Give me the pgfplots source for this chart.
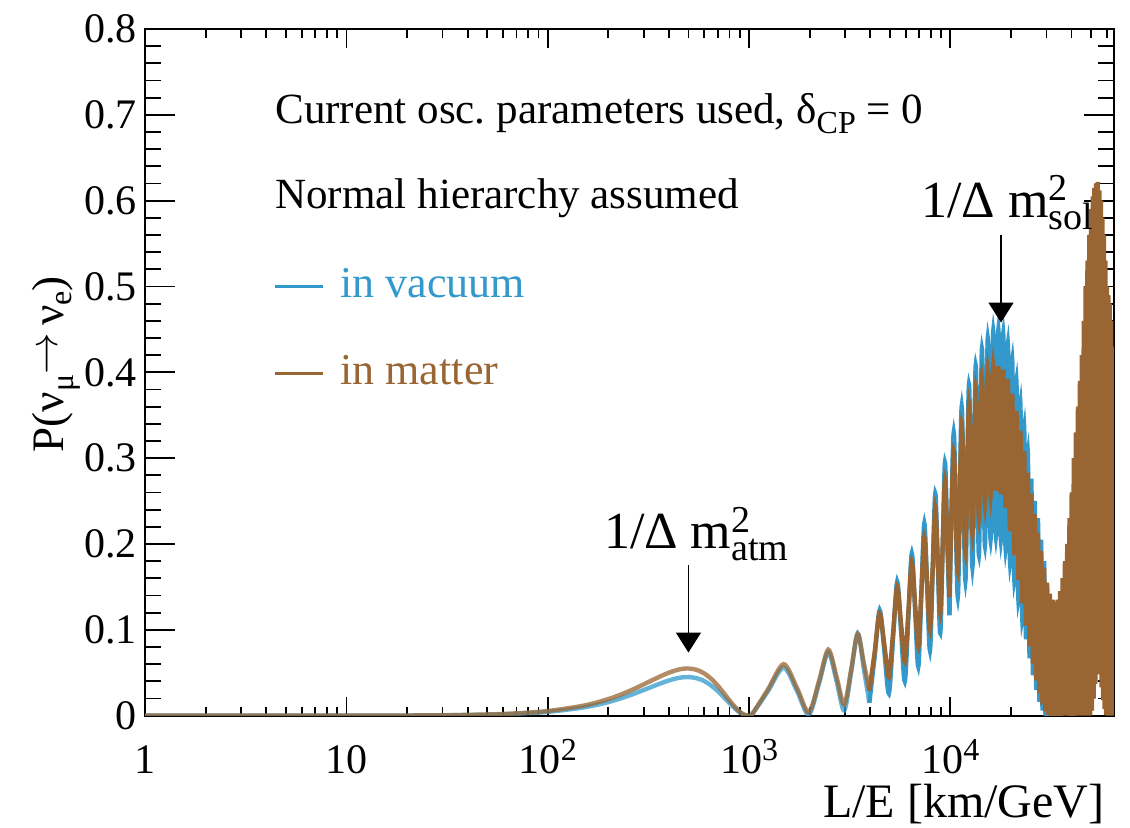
\documentclass[border=0pt]{standalone}
\usepackage{fontspec}
\setmainfont{Liberation Serif}
\usepackage{pgfplots}
\pgfplotsset{compat=1.18}
\usetikzlibrary{arrows.meta}
\newcommand\fs[1]{\fontsize{#1}{#1}\selectfont}
\newcommand\sups[1]{\raisebox{6.5pt}{\fs{16}#1}}
\newcommand\msq[1]{m\rlap{\raisebox{8pt}{\fs{19}2}}\raisebox{-6pt}{\fs{19}#1}}
\definecolor{vblue}{RGB}{51,153,204}
\definecolor{mbrown}{RGB}{153,102,51}
\begin{document}
\begin{tikzpicture}
% ---------- frame and x ticks ----------
\begin{axis}[name=ax1, at={(0,0)}, anchor=south west,
  scale only axis, width=484pt, height=343pt,
  xmode=log, xmin=1, xmax=65000, ymin=0, ymax=0.8,
  xtick={1,10,100,1000,10000},
  xticklabels={1,10,10\sups{2},10\sups{3},10\sups{4}},
  minor xtick={2,3,4,5,6,7,8,9,20,30,40,50,60,70,80,90,200,300,400,500,600,700,800,900,2000,3000,4000,5000,6000,7000,8000,9000,20000,30000,40000,50000,60000},
  ytick=\empty,
  xtick pos=both, xticklabel pos=lower,
  tick align=inside,
  major tick length=9.5pt, minor tick length=4.5pt,
  axis line style={line width=1pt},
  every tick/.style={black, line width=0.9pt},
  xticklabel style={font=\fs{21}, anchor=base, inner sep=0pt, yshift=-29pt},
]
\end{axis}
% ---------- data and y ticks ----------
\begin{axis}[name=ax2, at={(0,0)}, anchor=south west,
  scale only axis, width=484pt, height=343pt,
  xmode=log, xmin=1, xmax=65000, ymin=0, ymax=0.8,
  xtick=\empty,
  ytick={0,0.1,0.2,0.3,0.4,0.5,0.6,0.7,0.8},
  yticklabels={0,0.1,0.2,0.3,0.4,0.5,0.6,0.7,0.8},
  minor y tick num=4,
  ytick pos=both, yticklabel pos=left,
  tick align=inside,
  major tick length=15pt, minor tick length=8pt,
  axis line style={line width=1pt},
  every tick/.style={black, line width=0.9pt},
  yticklabel style={font=\fs{21}, inner sep=0pt, xshift=-4pt},
  clip mode=individual,
  every axis plot/.append style={line width=2.2pt, smooth},
  legend style={at={(0.132,0.653)}, anchor=north west, draw=none, fill=none,
    font=\fs{22}, inner sep=0pt, row sep=24.5pt,
    nodes={inner sep=0pt, text height=15pt, text depth=4pt},
    /tikz/every odd column/.append style={column sep=8pt}},
  legend cell align=left,
  legend image code/.code={\draw[#1, line width=1.5pt, opacity=1, draw opacity=1] (0pt,0pt) -- (24pt,0pt);},
]
% vacuum
\addplot[vblue, draw opacity=0.75] coordinates {
(1,0)(5,0.00001)(10,0.00005)(20,0.0002)(30,0.0004)(50,0.0011)(70,0.0022)(100,0.0044)(150,0.0095)(200,0.0158)(250,0.0229)(300,0.0299)(350,0.0361)(400,0.0410)(450,0.0441)(495,0.0450)(550,0.0436)(600,0.0402)(650,0.0349)(700,0.0285)(750,0.0214)(800,0.0145)(850,0.0084)(900,0.0036)(950,0.0007)(990,0)(1030,0.0009)(1237.5,0.028)(1485,0.056)(1732.5,0.0285)(1980,0.001)(2227.5,0.0375)(2475,0.074)(2722.5,0.040)(2970,0.006)(3217.5,0.051)(3465,0.096)(3712.5,0.0555)(3960,0.015)};
\addlegendentry{\textcolor{vblue}{in vacuum}}
\addplot[vblue, forget plot] coordinates {
(3960,0.015)(4207.5,0.069)(4455,0.123)(4702.5,0.0745)(4950,0.026)(5197.5,0.091)(5445,0.156)(5692.5,0.098)(5940,0.040)(6187.5,0.1145)(6435,0.189)(6682.5,0.123)(6930,0.057)(7177.5,0.1405)(7425,0.224)(7672.5,0.150)(7920,0.076)(8167.5,0.1675)(8415,0.259)(8662.5,0.1775)(8910,0.096)(9157.5,0.1955)(9405,0.295)(9652.5,0.206)(9900,0.117)};
\addplot[vblue, forget plot] coordinates {
(9900,0.117)(10395,0.330)(10890,0.138)(11385,0.360)(11880,0.157)(12375,0.386)(12870,0.173)(13365,0.408)(13860,0.187)(14355,0.427)(14850,0.198)(15345,0.440)(15840,0.205)(16335,0.448)(16830,0.209)(17325,0.450)(17820,0.205)(18315,0.445)(18810,0.195)(19305,0.433)(19800,0.178)(20295,0.414)(20790,0.158)(21285,0.390)(21780,0.135)(22275,0.364)(22770,0.112)(23265,0.336)(23760,0.089)(24255,0.306)(24750,0.067)(25245,0.276)(25740,0.047)(26235,0.250)(26730,0.030)(27225,0.230)(27720,0.016)(28215,0.205)(28710,0.006)(29205,0.180)(29700,0)(30195,0.150)(30690,0)(31185,0.110)(31680,0)(32175,0.060)(32670,0)(33165,0.020)(33660,0)};
% matter
\addplot[mbrown, draw opacity=0.75] coordinates {
(1,0)(5,0.00001)(10,0.00006)(20,0.0002)(30,0.00045)(50,0.0014)(70,0.0027)(100,0.0054)(150,0.0116)(200,0.0193)(250,0.0279)(300,0.0365)(350,0.0441)(400,0.0501)(450,0.0539)(495,0.0550)(550,0.0533)(600,0.0491)(650,0.0427)(700,0.0348)(750,0.0262)(800,0.0177)(850,0.0103)(900,0.0044)(950,0.0009)(990,0)(1030,0.001)(1237.5,0.030)(1485,0.060)(1732.5,0.032)(1980,0.004)(2227.5,0.0405)(2475,0.077)(2722.5,0.045)(2970,0.013)(3217.5,0.054)(3465,0.095)(3712.5,0.062)(3960,0.029)};
\addlegendentry{\textcolor{mbrown}{in matter}}
\addplot[mbrown, forget plot] coordinates {
(3960,0.029)(4207.5,0.074)(4455,0.119)(4702.5,0.082)(4950,0.045)(5197.5,0.0975)(5445,0.150)(5692.5,0.1065)(5940,0.063)(6187.5,0.121)(6435,0.179)(6682.5,0.1295)(6930,0.080)(7177.5,0.144)(7425,0.208)(7672.5,0.1535)(7920,0.099)(8167.5,0.1705)(8415,0.242)(8662.5,0.1805)(8910,0.119)(9157.5,0.1965)(9405,0.274)(9652.5,0.206)(9900,0.138)};
\addplot[mbrown, forget plot] coordinates {
(9900,0.138)(10395,0.307)(10890,0.168)(11385,0.338)(11880,0.190)(12375,0.363)(12870,0.210)(13365,0.380)(13860,0.230)(14355,0.393)(14850,0.245)(15345,0.402)(15840,0.255)(16335,0.407)(16830,0.262)(17325,0.407)(17820,0.258)(18315,0.403)(18810,0.242)(19305,0.392)(19800,0.215)(20295,0.375)(20790,0.187)(21285,0.355)(21780,0.158)(22275,0.332)(22770,0.131)(23265,0.308)(23760,0.105)(24255,0.283)(24750,0.081)(25245,0.258)(25740,0.060)(26235,0.235)(26730,0.041)(27225,0.213)(27720,0.026)(28215,0.192)(28710,0.013)(29205,0.172)(29700,0.005)(30195,0.155)(30690,0.001)(31185,0.142)(31680,0)(32175,0.135)(32670,0)(33165,0.132)(33660,0)(34155,0.135)(34650,0)(35145,0.145)(35640,0)(36135,0.160)(36630,0)(37125,0.180)(37620,0)(38115,0.200)(38610,0)(39105,0.230)(39600,0)(40095,0.260)(40590,0)(41085,0.300)(41580,0)(42075,0.330)(42570,0)(43065,0.360)(43560,0)(44055,0.390)(44550,0)(45045,0.420)(45540,0)(46035,0.460)(46530,0)(47025,0.500)(47520,0)(48015,0.530)(48510,0)(49005,0.560)(49500,0)(49995,0.590)(50490,0.006)(50985,0.605)(51480,0.020)(51975,0.615)(52470,0.037)(52965,0.620)(53460,0.054)(53955,0.622)(54450,0.062)(54945,0.612)(55440,0.048)(55935,0.600)(56430,0.033)(56925,0.580)(57420,0.018)(57915,0.560)(58410,0.008)(58905,0.530)(59400,0.001)(59895,0.500)(60390,0)(60885,0.490)(61380,0)(61875,0.480)(62370,0)(62865,0.460)(63360,0)(63855,0.430)(64350,0)(64845,0.390)(65340,0)};
% annotations
\node[anchor=base west, font=\fs{21.5}, inner sep=0pt] at (rel axis cs:0.134,0.863)
  {Current osc.\ parameters used, δ\raisebox{-5pt}{\fs{16}CP} = 0};
\node[anchor=base west, font=\fs{21.5}, inner sep=0pt] at (rel axis cs:0.134,0.739)
  {Normal hierarchy assumed};
\draw[line width=0.7pt, -{Triangle[width=12.5pt,length=10pt]}] (axis cs:500,0.175) -- (axis cs:500,0.0735);
\draw[line width=0.7pt, -{Triangle[width=12.5pt,length=10pt]}] (axis cs:17850,0.560) -- (axis cs:17850,0.458);
\node[anchor=base west, font=\fs{26}, inner sep=0pt] at (axis cs:189.5,0.195) {1/Δ \msq{atm}};
\node[anchor=base west, font=\fs{26}, inner sep=0pt] at (axis cs:7140,0.581) {1/Δ \msq{sol}};
\node[anchor=base east, font=\fs{24}, inner sep=0pt] at (rel axis cs:1,0) [xshift=-4.5pt, yshift=-51pt] {L/E [km/GeV]};
\node[xshift=-41pt, anchor=base, rotate=90, font=\fs{22.5}, inner sep=0pt] at (rel axis cs:0,0.512)
  {P(ν\raisebox{-5pt}{\fs{16}μ}\raisebox{3pt}{$\rightarrow$}\,ν\raisebox{-4pt}{\fs{16}e})};
\end{axis}
\pgfresetboundingbox
\path[use as bounding box] (ax2.south west) ++(-72.5pt,-56pt) rectangle ++(564.5pt,413.5pt);
\end{tikzpicture}
\end{document}
